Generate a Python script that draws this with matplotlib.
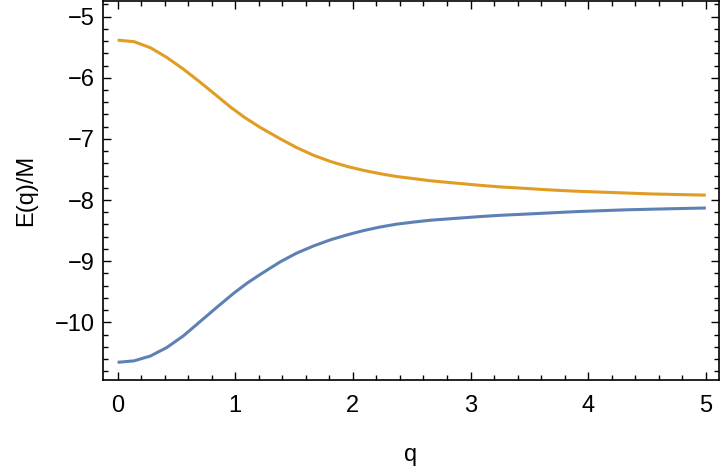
import numpy as np
import matplotlib
matplotlib.use("Agg")
import matplotlib.pyplot as plt
from matplotlib.ticker import MultipleLocator

# values
q_upper = [0.0, 0.14, 0.28, 0.42, 0.56, 0.70, 0.84, 0.96, 1.08, 1.21, 1.383, 1.52, 1.667, 1.81, 1.95, 2.09,
           2.234, 2.37, 2.517, 2.66, 2.80, 3.084, 3.25, 3.47, 3.68, 3.89, 4.10, 4.32, 4.53, 4.76, 5.0]
e_upper = [-5.385, -5.41, -5.51, -5.67, -5.86, -6.07, -6.29, -6.48, -6.65, -6.81, -7.00, -7.14, -7.27, -7.37, -7.45, -7.515,
           -7.57, -7.615, -7.65, -7.685, -7.71, -7.76, -7.785, -7.81, -7.835, -7.855, -7.87, -7.885, -7.90, -7.91, -7.92]

q_lower = [0.0, 0.14, 0.28, 0.42, 0.56, 0.70, 0.84, 0.99, 1.10, 1.21, 1.30, 1.383, 1.52, 1.667, 1.81, 1.95, 2.09,
           2.234, 2.37, 2.517, 2.66, 2.80, 3.084, 3.25, 3.47, 3.68, 3.89, 4.10, 4.32, 4.53, 4.76, 5.0]
e_lower = [-10.654, -10.63, -10.55, -10.41, -10.22, -9.99, -9.76, -9.52, -9.36, -9.22, -9.11, -9.01, -8.87, -8.75, -8.65, -8.57, -8.50,
           -8.44, -8.395, -8.36, -8.33, -8.31, -8.27, -8.25, -8.23, -8.21, -8.19, -8.175, -8.16, -8.15, -8.14, -8.13]

plt.rcParams["font.family"] = ["Liberation Sans", "DejaVu Sans"]

fig = plt.figure(figsize=(7.2, 4.7), dpi=100)
ax = fig.add_axes([0.1437, 0.1915, 0.8543, 0.8065])

ax.plot(q_lower, e_lower, color="#5E81B5", lw=2.2, solid_capstyle="butt", solid_joinstyle="round")
ax.plot(q_upper, e_upper, color="#E19C24", lw=2.2, solid_capstyle="butt", solid_joinstyle="round")

ax.set_xlim(-0.12, 5.108)
ax.set_ylim(-10.943, -4.744)

ax.xaxis.set_major_locator(MultipleLocator(1))
ax.xaxis.set_minor_locator(MultipleLocator(0.2))
ax.yaxis.set_major_locator(MultipleLocator(1))
ax.yaxis.set_minor_locator(MultipleLocator(0.2))

ax.tick_params(which="both", direction="in", top=True, right=True, width=1.0, color="black")
ax.tick_params(which="major", length=6)
ax.tick_params(which="minor", length=3.5)
ax.tick_params(axis="x", which="major", labelsize=17, pad=11)
ax.tick_params(axis="y", which="major", labelsize=17, pad=6)

for s in ax.spines.values():
    s.set_linewidth(1.2)

ax.set_xlabel("q", fontsize=17, labelpad=19)
ax.set_ylabel("E(q)/M", fontsize=17, labelpad=13)

fig.savefig("out.png", dpi=100)
